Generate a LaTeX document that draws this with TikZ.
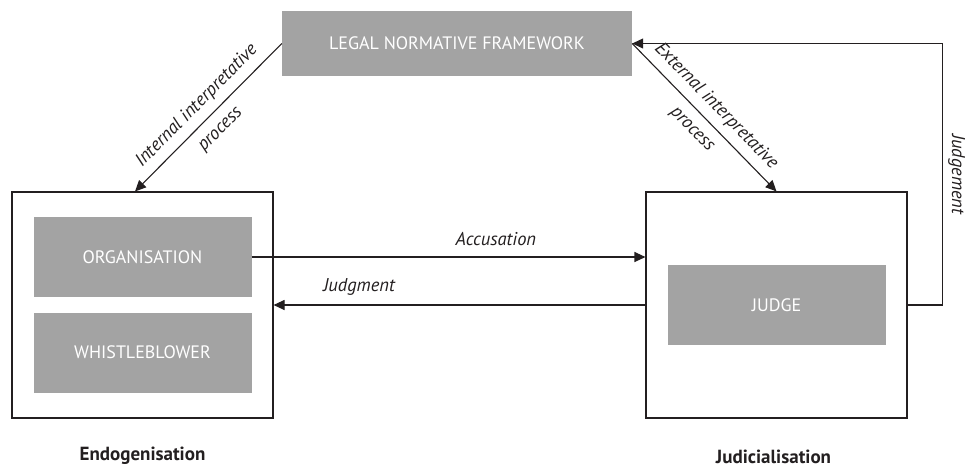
\documentclass[tikz,border=0pt]{standalone}
\usepackage{fontspec}
\setmainfont{PT Sans}
\usepackage{xcolor}
\usepackage{tikz}
\usetikzlibrary{shapes.geometric, arrows}
\usetikzlibrary{arrows.meta}
\definecolor{boxgrey}{HTML}{A3A3A3}
\definecolor{linegrey}{HTML}{231F20}
\tikzstyle{actor} = [rectangle, minimum width=218pt, minimum height=80pt, fill=boxgrey, text=white, font=\fontsize{18}{21}\selectfont, text centered]
\tikzstyle{frame} = [rectangle, minimum width=261pt, minimum height=226pt, draw=linegrey, line width=1.1pt]
\tikzstyle{arrow} = [line width=1.1pt, draw=linegrey, -{Triangle[length=11pt,width=10pt]}]
\tikzstyle{flowtext} = [font=\itshape\fontsize{18.5}{33}\selectfont, text=linegrey, align=center]
\tikzstyle{phase} = [font=\bfseries\fontsize{19}{22}\selectfont, text=linegrey]

\begin{document}
\begin{tikzpicture}[node distance=2cm]
                        \useasboundingbox (0,0) rectangle (965pt,-467pt);
                        \node (legal) [actor, minimum width=350pt, minimum height=65pt] at (457pt,-43.5pt) {LEGAL NORMATIVE FRAMEWORK};

                        \node (endo) [frame, node distance=261.5pt, below of=legal, xshift=-314.5pt] {};
                        \node (judi) [frame, node distance=634pt, right of=endo] {};

                        \node (org) [actor, node distance=48pt, above of=endo] {ORGANISATION};
                        \node (whistle) [actor, node distance=95.5pt, below of=org] {WHISTLEBLOWER};
                        \node (judge) [actor] at (judi) {JUDGE};

                        \node (endocap) [phase, node distance=151pt, below of=endo] {Endogenisation};
                        \node (judicap) [phase, node distance=152pt, below of=judi, xshift=-3pt] {Judicialisation};

                        \draw [arrow] (legal.west) -- node [flowtext, sloped] {Internal interpretative\\process} ([xshift=-7.5pt]endo.north);
                        \draw [arrow] (legal.east) -- node [flowtext, sloped] {External interpretative\\process} (judi.north);
                        \draw [arrow] (org.east) -- node [flowtext, above=7pt, pos=0.62] {Accusation} (org.east -| judi.west);
                        \draw [arrow] (judi.west) -- node [flowtext, above=6pt, pos=0.77] {Judgment} (endo.east);
                        \draw [arrow] (judi.east) -- ++(35pt,0) |- node [flowtext, pos=0.25, anchor=south, rotate=-90, inner sep=5pt] {Judgement} (legal.east);
                    \end{tikzpicture}
\end{document}
